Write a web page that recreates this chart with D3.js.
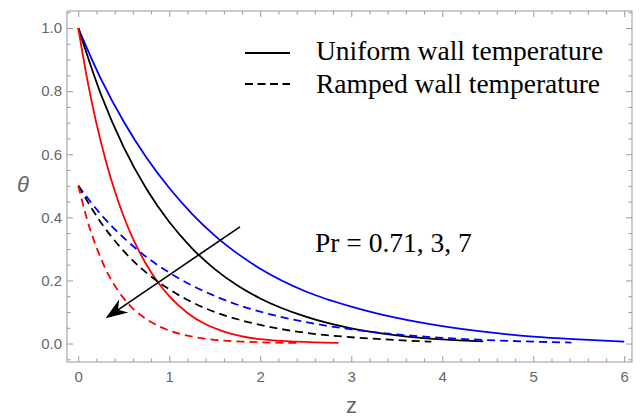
<!DOCTYPE html>
<html><head><meta charset="utf-8">
<script src="https://cdn.jsdelivr.net/npm/d3@7"></script>
<style>html,body{margin:0;padding:0;background:#fff;}svg{display:block;}</style>
</head><body>
<script>
// ---- data ----
const zBlueSolid  = [0,0.25,0.5,0.75,1.0,1.25,1.5,1.75,2.0,2.5,3.0,3.5,4.0,4.5,5.0,5.5,6.0];
const tBlueSolid  = [1.0,0.838,0.703,0.589,0.493,0.411,0.342,0.285,0.237,0.165,0.117,0.081,0.055,0.036,0.022,0.013,0.006];
const zBlackSolid = [0,0.25,0.5,0.75,1.0,1.25,1.5,1.75,2.0,2.5,3.0,3.5,4.0,4.45];
const tBlackSolid = [1.0,0.789,0.622,0.49,0.385,0.302,0.236,0.184,0.143,0.085,0.048,0.026,0.013,0.007];
const zRedSolid   = [0,0.1,0.2,0.3,0.4,0.5,0.6,0.7,0.8,0.9,1.0,1.2,1.4,1.6,1.8,2.0,2.4,2.86];
const tRedSolid   = [1.0,0.835,0.697,0.582,0.484,0.402,0.333,0.275,0.226,0.185,0.15,0.097,0.061,0.038,0.023,0.014,0.006,0.002];
const zBlueDash   = [0,0.25,0.5,0.75,1.0,1.25,1.5,1.75,2.0,2.5,3.0,3.5,4.0,4.5,5.0,5.42];
const tBlueDash   = [0.5,0.409,0.335,0.274,0.225,0.184,0.151,0.123,0.101,0.068,0.045,0.029,0.018,0.011,0.006,0.003];
const zBlackDash  = [0,0.25,0.5,0.75,1.0,1.25,1.5,1.75,2.0,2.5,3.0,3.5,3.88];
const tBlackDash  = [0.5,0.383,0.293,0.224,0.172,0.131,0.1,0.077,0.059,0.034,0.02,0.011,0.006];
const zRedDash    = [0,0.1,0.2,0.3,0.4,0.5,0.6,0.7,0.8,0.9,1.0,1.2,1.4,1.6,1.8,2.0,2.42];
const tRedDash    = [0.5,0.39,0.305,0.236,0.184,0.143,0.111,0.087,0.068,0.053,0.041,0.025,0.015,0.009,0.006,0.004,0.002];

const xTicks = [0,1,2,3,4,5,6];
const yTicks = [0.0,0.2,0.4,0.6,0.8,1.0];
const yTickLabels = ["0.0","0.2","0.4","0.6","0.8","1.0"];
const legendLabels = ["Uniform wall temperature","Ramped wall temperature"];
const annotation = "Pr = 0.71, 3, 7";
const arrowFrom = [1.777, 0.37];
const arrowTo = [0.30, 0.08];

const series = [
  {z: zBlueSolid,  t: tBlueSolid,  color: "#0000ff", dash: null},
  {z: zBlackSolid, t: tBlackSolid, color: "#000000", dash: null},
  {z: zRedSolid,   t: tRedSolid,   color: "#ff0000", dash: null},
  {z: zBlueDash,   t: tBlueDash,   color: "#0000ff", dash: "8,5"},
  {z: zBlackDash,  t: tBlackDash,  color: "#000000", dash: "8,5"},
  {z: zRedDash,    t: tRedDash,    color: "#ff0000", dash: "8,5"}
];

// ---- layout ----
const W = 640, H = 419;
const L = 67, R = 632, T = 11, B = 362;
const frameColor = "#999999", labelColor = "#666666";

const svg = d3.select("body").append("svg").attr("width", W).attr("height", H);
const x = d3.scaleLinear().domain([-0.124, 6.085]).range([L, R]);
const y = d3.scaleLinear().domain([-0.0585, 1.054]).range([B, T]);

function range(a, b, s) { const r = []; for (let v = a; v <= b + 1e-9; v += s) r.push(+v.toFixed(4)); return r; }
const xMinor = range(0, 6, 0.2).filter(v => Math.abs(v - Math.round(v)) > 1e-6);
const yMinor = range(-0.05, 1.05, 0.05).filter(v => Math.abs(v*5 - Math.round(v*5)) > 1e-6);

function styleAxis(g) {
  g.select(".domain").remove();
  g.selectAll(".tick line").attr("stroke", frameColor).attr("stroke-width", 1);
  g.selectAll(".tick text").attr("fill", labelColor).attr("font-family", "Liberation Sans, Arial, sans-serif").attr("font-size", 15);
}
// bottom
svg.append("g").attr("transform", `translate(0,${B})`)
  .call(d3.axisBottom(x).tickValues(xTicks).tickFormat(d => String(d)).tickSize(-6).tickPadding(9)).call(styleAxis);
svg.append("g").attr("transform", `translate(0,${B})`)
  .call(d3.axisBottom(x).tickValues(xMinor).tickFormat("").tickSize(-3.5)).call(styleAxis);
// top
svg.append("g").attr("transform", `translate(0,${T})`)
  .call(d3.axisTop(x).tickValues(xTicks).tickFormat("").tickSize(-6)).call(styleAxis);
svg.append("g").attr("transform", `translate(0,${T})`)
  .call(d3.axisTop(x).tickValues(xMinor).tickFormat("").tickSize(-3.5)).call(styleAxis);
// left
svg.append("g").attr("transform", `translate(${L},0)`)
  .call(d3.axisLeft(y).tickValues(yTicks).tickFormat((d, i) => yTickLabels[i]).tickSize(-6).tickPadding(5)).call(styleAxis);
svg.append("g").attr("transform", `translate(${L},0)`)
  .call(d3.axisLeft(y).tickValues(yMinor).tickFormat("").tickSize(-3.5)).call(styleAxis);
// right
svg.append("g").attr("transform", `translate(${R},0)`)
  .call(d3.axisRight(y).tickValues(yTicks).tickFormat("").tickSize(-6)).call(styleAxis);
svg.append("g").attr("transform", `translate(${R},0)`)
  .call(d3.axisRight(y).tickValues(yMinor).tickFormat("").tickSize(-3.5)).call(styleAxis);

svg.append("rect").attr("x", L).attr("y", T).attr("width", R - L).attr("height", B - T)
  .attr("fill", "none").attr("stroke", frameColor).attr("stroke-width", 1);

// curves
const line = d3.line().x(d => x(d[0])).y(d => y(d[1])).curve(d3.curveMonotoneX);
series.forEach(s => {
  const pts = s.z.map((z, i) => [z, s.t[i]]);
  svg.append("path").attr("d", line(pts)).attr("fill", "none")
    .attr("stroke", s.color).attr("stroke-width", 1.8)
    .attr("stroke-dasharray", s.dash);
});

// arrow
const x1 = x(arrowFrom[0]), y1 = y(arrowFrom[1]), x2 = x(arrowTo[0]), y2 = y(arrowTo[1]);
const dx = x1 - x2, dy = y1 - y2, len = Math.hypot(dx, dy), ux = dx / len, uy = dy / len;
const hl = 22, hw = 8, notch = 15;
svg.append("line").attr("x1", x1).attr("y1", y1).attr("x2", x2 + ux * notch).attr("y2", y2 + uy * notch)
  .attr("stroke", "#000").attr("stroke-width", 1.6);
const bx = x2 + ux * hl, by = y2 + uy * hl;
const nx = x2 + ux * notch, ny = y2 + uy * notch;
svg.append("path")
  .attr("d", `M${x2},${y2}L${bx - uy * hw},${by + ux * hw}L${nx},${ny}L${bx + uy * hw},${by - ux * hw}Z`)
  .attr("fill", "#000");

// legend
const serif = "Liberation Serif, Times New Roman, serif";
svg.append("line").attr("x1", 245).attr("x2", 290).attr("y1", 53).attr("y2", 53).attr("stroke", "#000").attr("stroke-width", 2);
svg.append("line").attr("x1", 245).attr("x2", 290).attr("y1", 84).attr("y2", 84).attr("stroke", "#000").attr("stroke-width", 2).attr("stroke-dasharray", "8,4.5");
svg.append("text").attr("x", 316).attr("y", 60).attr("font-family", serif).attr("font-size", 27.5).attr("fill", "#000").text(legendLabels[0]);
svg.append("text").attr("x", 316).attr("y", 93).attr("font-family", serif).attr("font-size", 27.5).attr("fill", "#000").text(legendLabels[1]);
svg.append("text").attr("x", 315).attr("y", 252).attr("font-family", serif).attr("font-size", 27.5).attr("fill", "#000").text(annotation);

// axis labels
svg.append("text").attr("x", 351.5).attr("y", 413).attr("text-anchor", "middle")
  .attr("font-family", "Liberation Sans, Arial, sans-serif").attr("font-size", 22).attr("fill", labelColor).text("z");
svg.append("text").attr("x", 23).attr("y", 192).attr("text-anchor", "middle")
  .attr("font-family", "Liberation Sans, Arial, sans-serif").attr("font-style", "italic").attr("font-size", 22).attr("fill", labelColor).text("θ");
</script>
</body></html>
